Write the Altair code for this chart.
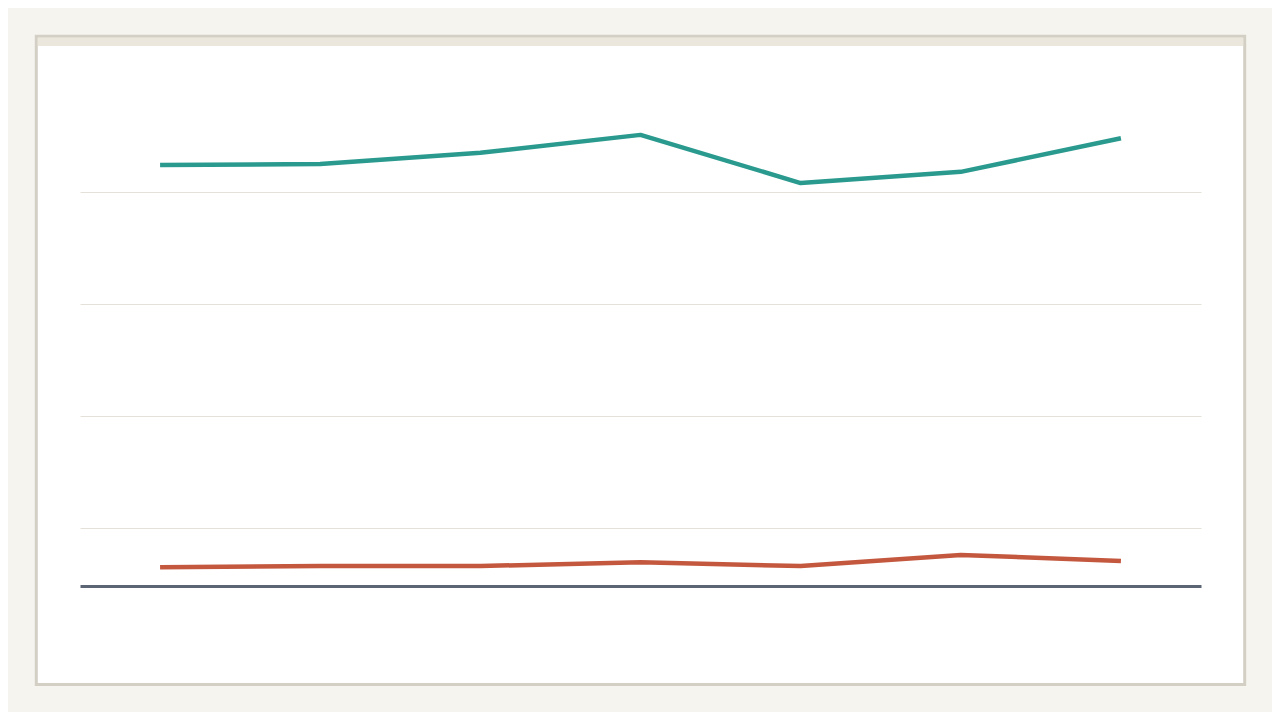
import altair as alt
import pandas as pd

# Data (no labels are shown in the reference)
categories = ["1", "2", "3", "4", "5", "6", "7"]
series_a = [84.8, 85.0, 87.0, 90.2, 81.6, 83.6, 89.6]
series_b = [13.0, 13.2, 13.2, 13.9, 13.2, 15.2, 14.1]
series_names = ["Series A", "Series B"]
grid_values = [20, 40, 60, 80]

rows = []
for c, v in zip(categories, series_a):
    rows.append({"cat": c, "value": v, "series": series_names[0]})
for c, v in zip(categories, series_b):
    rows.append({"cat": c, "value": v, "series": series_names[1]})
df = pd.DataFrame(rows)

W, H = 1121, 506

frame = alt.Chart(pd.DataFrame({"a": [0]})).mark_rect(
    fill="#ffffff", stroke="#d3cfc4", strokeWidth=3
).encode(
    x=alt.value(-43.7), x2=alt.value(1164.7),
    y=alt.value(-43.7), y2=alt.value(604.5),
)

header = alt.Chart(pd.DataFrame({"a": [0]})).mark_rect(
    fill="#ebe7dd", strokeWidth=0
).encode(
    x=alt.value(-42.2), x2=alt.value(1163.2),
    y=alt.value(-42.2), y2=alt.value(-34),
)

lines = alt.Chart(df).mark_line(strokeWidth=4.5, interpolate="linear",
                                strokeJoin="round").encode(
    x=alt.X("cat:O", sort=categories,
            scale=alt.Scale(type="point", padding=0.5),
            axis=alt.Axis(labels=False, ticks=False, grid=False, title=None,
                          domain=True, domainColor="#5c6573", domainWidth=3,
                          zindex=1)),
    y=alt.Y("value:Q",
            scale=alt.Scale(domain=[9.643, 100], nice=False, zero=False),
            axis=alt.Axis(values=grid_values, labels=False, ticks=False,
                          domain=False, grid=True, gridColor="#e4e2d8",
                          gridWidth=1, title=None, zindex=1)),
    color=alt.Color("series:N",
                    scale=alt.Scale(domain=series_names,
                                    range=["#2a9a8f", "#c4583f"]),
                    legend=None),
)

chart = alt.layer(frame, header, lines).properties(
    width=W, height=H,
    background="#f5f4ef",
    padding={"left": 72, "top": 72, "right": 71, "bottom": 126},
    autosize=alt.AutoSizeParams(type="none"),
).configure_view(stroke=None)

chart.save("out.html", embed_options={"renderer": "svg", "actions": False})
